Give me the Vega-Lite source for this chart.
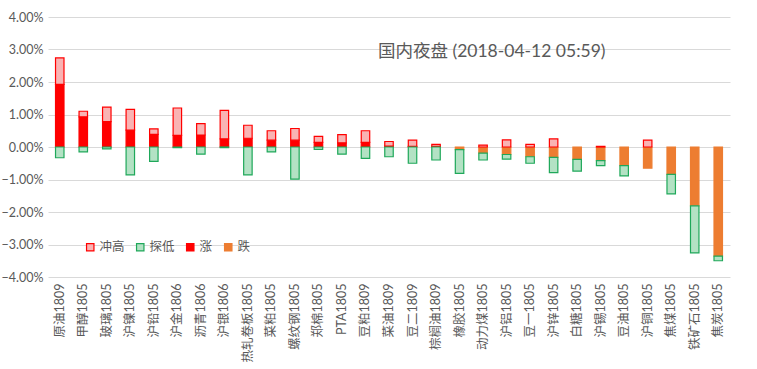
{
  "$schema": "https://vega.github.io/schema/vega-lite/v6.json",
  "width": 682,
  "height": 260,
  "autosize": {"type": "none"},
  "padding": {"left": 48, "top": 17, "right": 27, "bottom": 92},
  "background": "white",
  "title": {
    "text": "国内夜盘 (2018-04-12 05:59)",
    "anchor": "start",
    "frame": "group",
    "dx": 330,
    "offset": -49,
    "fontSize": 17.5,
    "fontWeight": "normal",
    "color": "#595959",
    "font": "Lato, Noto Sans CJK SC"
  },
  "config": {
    "view": {"stroke": null},
    "font": "Lato, Noto Sans CJK SC",
    "axis": {
      "labelFont": "Lato, Noto Sans CJK SC",
      "labelColor": "#595959",
      "gridColor": "#d9d9d9",
      "domain": false,
      "ticks": false
    }
  },
  "data": {
    "values": [
      {"name": "原油1809", "s": "涨", "a": 0, "b": 0.0193},
      {"name": "原油1809", "s": "冲高", "a": 0.0193, "b": 0.0274},
      {"name": "原油1809", "s": "探低", "a": -0.0033, "b": 0},
      {"name": "甲醇1805", "s": "涨", "a": 0, "b": 0.0093},
      {"name": "甲醇1805", "s": "冲高", "a": 0.0093, "b": 0.011},
      {"name": "甲醇1805", "s": "探低", "a": -0.0015, "b": 0},
      {"name": "玻璃1805", "s": "涨", "a": 0, "b": 0.0078},
      {"name": "玻璃1805", "s": "冲高", "a": 0.0078, "b": 0.0123},
      {"name": "玻璃1805", "s": "探低", "a": -0.0006, "b": 0},
      {"name": "沪镍1805", "s": "涨", "a": 0, "b": 0.0052},
      {"name": "沪镍1805", "s": "冲高", "a": 0.0052, "b": 0.0116},
      {"name": "沪镍1805", "s": "探低", "a": -0.0086, "b": 0},
      {"name": "沪铅1805", "s": "涨", "a": 0, "b": 0.0039},
      {"name": "沪铅1805", "s": "冲高", "a": 0.0039, "b": 0.0056},
      {"name": "沪铅1805", "s": "探低", "a": -0.0044, "b": 0},
      {"name": "沪金1806", "s": "涨", "a": 0, "b": 0.0036},
      {"name": "沪金1806", "s": "冲高", "a": 0.0036, "b": 0.012},
      {"name": "沪金1806", "s": "探低", "a": -0.0002, "b": 0},
      {"name": "沥青1806", "s": "涨", "a": 0, "b": 0.0037},
      {"name": "沥青1806", "s": "冲高", "a": 0.0037, "b": 0.0072},
      {"name": "沥青1806", "s": "探低", "a": -0.0022, "b": 0},
      {"name": "沪银1806", "s": "涨", "a": 0, "b": 0.0025},
      {"name": "沪银1806", "s": "冲高", "a": 0.0025, "b": 0.0113},
      {"name": "沪银1806", "s": "探低", "a": -0.0002, "b": 0},
      {"name": "热轧卷板1805", "s": "涨", "a": 0, "b": 0.0027},
      {"name": "热轧卷板1805", "s": "冲高", "a": 0.0027, "b": 0.0067},
      {"name": "热轧卷板1805", "s": "探低", "a": -0.0086, "b": 0},
      {"name": "菜粕1805", "s": "涨", "a": 0, "b": 0.0021},
      {"name": "菜粕1805", "s": "冲高", "a": 0.0021, "b": 0.005},
      {"name": "菜粕1805", "s": "探低", "a": -0.0015, "b": 0},
      {"name": "螺纹钢1805", "s": "涨", "a": 0, "b": 0.0021},
      {"name": "螺纹钢1805", "s": "冲高", "a": 0.0021, "b": 0.0057},
      {"name": "螺纹钢1805", "s": "探低", "a": -0.0099, "b": 0},
      {"name": "郑棉1805", "s": "涨", "a": 0, "b": 0.0014},
      {"name": "郑棉1805", "s": "冲高", "a": 0.0014, "b": 0.0033},
      {"name": "郑棉1805", "s": "探低", "a": -0.0007, "b": 0},
      {"name": "PTA1805", "s": "涨", "a": 0, "b": 0.0013},
      {"name": "PTA1805", "s": "冲高", "a": 0.0013, "b": 0.0038},
      {"name": "PTA1805", "s": "探低", "a": -0.0022, "b": 0},
      {"name": "豆粕1809", "s": "涨", "a": 0, "b": 0.0014},
      {"name": "豆粕1809", "s": "冲高", "a": 0.0014, "b": 0.005},
      {"name": "豆粕1809", "s": "探低", "a": -0.0035, "b": 0},
      {"name": "菜油1809", "s": "涨", "a": 0, "b": 0.0003},
      {"name": "菜油1809", "s": "冲高", "a": 0.0003, "b": 0.0017},
      {"name": "菜油1809", "s": "探低", "a": -0.003, "b": 0},
      {"name": "豆二1809", "s": "涨", "a": 0, "b": 0.0002},
      {"name": "豆二1809", "s": "冲高", "a": 0.0002, "b": 0.0021},
      {"name": "豆二1809", "s": "探低", "a": -0.005, "b": 0},
      {"name": "棕榈油1809", "s": "涨", "a": 0, "b": 0.0002},
      {"name": "棕榈油1809", "s": "冲高", "a": 0.0002, "b": 0.0008},
      {"name": "棕榈油1809", "s": "探低", "a": -0.004, "b": 0},
      {"name": "橡胶1805", "s": "跌", "a": -0.0008, "b": 0},
      {"name": "橡胶1805", "s": "探低", "a": -0.0081, "b": -0.0008},
      {"name": "动力煤1805", "s": "跌", "a": -0.0019, "b": 0},
      {"name": "动力煤1805", "s": "探低", "a": -0.004, "b": -0.0019},
      {"name": "动力煤1805", "s": "冲高", "a": 0, "b": 0.0006},
      {"name": "沪铝1805", "s": "跌", "a": -0.0023, "b": 0},
      {"name": "沪铝1805", "s": "探低", "a": -0.0037, "b": -0.0023},
      {"name": "沪铝1805", "s": "冲高", "a": 0, "b": 0.0022},
      {"name": "豆一1805", "s": "跌", "a": -0.003, "b": 0},
      {"name": "豆一1805", "s": "探低", "a": -0.005, "b": -0.003},
      {"name": "豆一1805", "s": "冲高", "a": 0, "b": 0.0008},
      {"name": "沪锌1805", "s": "跌", "a": -0.0032, "b": 0},
      {"name": "沪锌1805", "s": "探低", "a": -0.0079, "b": -0.0032},
      {"name": "沪锌1805", "s": "冲高", "a": 0, "b": 0.0025},
      {"name": "白糖1805", "s": "跌", "a": -0.0038, "b": 0},
      {"name": "白糖1805", "s": "探低", "a": -0.0074, "b": -0.0038},
      {"name": "沪锡1805", "s": "跌", "a": -0.0042, "b": 0},
      {"name": "沪锡1805", "s": "探低", "a": -0.0057, "b": -0.0042},
      {"name": "沪锡1805", "s": "冲高", "a": 0, "b": 0.0002},
      {"name": "豆油1805", "s": "跌", "a": -0.0057, "b": 0},
      {"name": "豆油1805", "s": "探低", "a": -0.0089, "b": -0.0057},
      {"name": "沪铜1805", "s": "跌", "a": -0.0065, "b": 0},
      {"name": "沪铜1805", "s": "冲高", "a": 0, "b": 0.0021},
      {"name": "焦煤1805", "s": "跌", "a": -0.0084, "b": 0},
      {"name": "焦煤1805", "s": "探低", "a": -0.0144, "b": -0.0084},
      {"name": "铁矿石1805", "s": "跌", "a": -0.0181, "b": 0},
      {"name": "铁矿石1805", "s": "探低", "a": -0.0326, "b": -0.0181},
      {"name": "焦炭1805", "s": "跌", "a": -0.0336, "b": 0},
      {"name": "焦炭1805", "s": "探低", "a": -0.035, "b": -0.0336}
    ]
  },
  "mark": {"type": "bar", "strokeWidth": 1.2},
  "encoding": {
    "x": {
      "field": "name",
      "type": "nominal",
      "sort": null,
      "scale": {"paddingInner": 0.64, "paddingOuter": 0.32},
      "axis": {
        "title": null,
        "labelAngle": -90,
        "labelFontSize": 12.5,
        "labelPadding": 6,
        "grid": false
      }
    },
    "y": {
      "field": "b",
      "type": "quantitative",
      "scale": {"domain": [-0.04, 0.04], "nice": false},
      "axis": {
        "title": null,
        "format": ".2%",
        "values": [-0.04, -0.03, -0.02, -0.01, 0, 0.01, 0.02, 0.03, 0.04],
        "labelFontSize": 12.5,
        "labelPadding": 5
      }
    },
    "y2": {"field": "a"},
    "fill": {
      "field": "s",
      "type": "nominal",
      "scale": {
        "domain": ["冲高", "探低", "涨", "跌"],
        "range": ["#f9b3b3", "#b3e2c4", "#ff0000", "#ed7d31"]
      },
      "legend": {
        "title": null,
        "orient": "none",
        "direction": "horizontal",
        "legendX": 36,
        "legendY": 224,
        "symbolType": "square",
        "symbolSize": 55,
        "symbolStrokeWidth": 1.2,
        "labelFontSize": 12.5,
        "labelColor": "#595959",
        "columnPadding": 9,
        "gridAlign": "none",
        "labelOffset": 3
      }
    },
    "stroke": {
      "field": "s",
      "type": "nominal",
      "scale": {
        "domain": ["冲高", "探低", "涨", "跌"],
        "range": ["#ff0000", "#1fa85a", "#ff0000", "#ed7d31"]
      },
      "legend": null
    }
  }
}
